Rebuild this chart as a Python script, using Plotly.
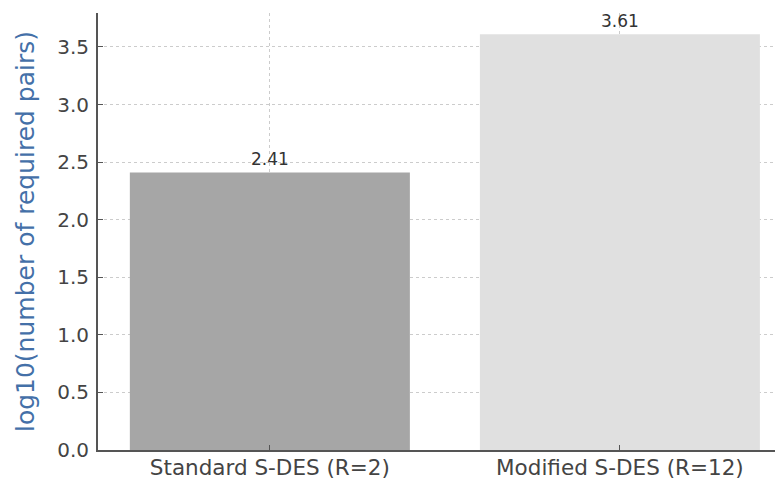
import plotly.graph_objects as go

categories = ["Standard S-DES (R=2)", "Modified S-DES (R=12)"]
values = [2.41, 3.61]
labels = ["2.41", "3.61"]
bar_colors = ["#a6a6a6", "#e0e0e0"]
y_ticks = [0.0, 0.5, 1.0, 1.5, 2.0, 2.5, 3.0, 3.5]
y_tick_text = ["0.0", "0.5", "1.0", "1.5", "2.0", "2.5", "3.0", "3.5"]

fig = go.Figure()
fig.add_trace(go.Bar(
    x=[0, 1], y=values, width=0.8,
    marker=dict(color=bar_colors, line=dict(width=0)),
    text=labels, textposition="outside", cliponaxis=False,
    textfont=dict(family="DejaVu Sans", size=17, color="#333333"),
))

fig.update_layout(
    width=775, height=472,
    margin=dict(l=90, r=0, t=5, b=30),
    paper_bgcolor="white", plot_bgcolor="white",
    showlegend=False,
    font=dict(family="DejaVu Sans", color="#444444"),
    xaxis=dict(
        range=[-0.491, 1.466],
        tickmode="array", tickvals=[0, 1], ticktext=categories,
        tickfont=dict(size=21.5, color="#444444"),
        ticklabelstandoff=-3,
        showline=True, linecolor="#555555", linewidth=2,
        ticks="inside", ticklen=5, tickcolor="#555555",
        showgrid=True, gridcolor="#cccccc", griddash="dot", gridwidth=1,
        zeroline=False, automargin=False,
    ),
    yaxis=dict(
        range=[0, 3.795],
        tickmode="array", tickvals=y_ticks, ticktext=y_tick_text,
        tickfont=dict(size=20, color="#444444"),
        ticklabelstandoff=3,
        showline=True, linecolor="#555555", linewidth=2,
        ticks="inside", ticklen=5, tickcolor="#555555",
        showgrid=True, gridcolor="#cccccc", griddash="dot", gridwidth=1,
        zeroline=False,
        title=dict(text="log10(number of required pairs)",
                   font=dict(size=25, color="#4470a8"), standoff=15),
        automargin=False,
    ),
)

fig.write_html("out.html")
